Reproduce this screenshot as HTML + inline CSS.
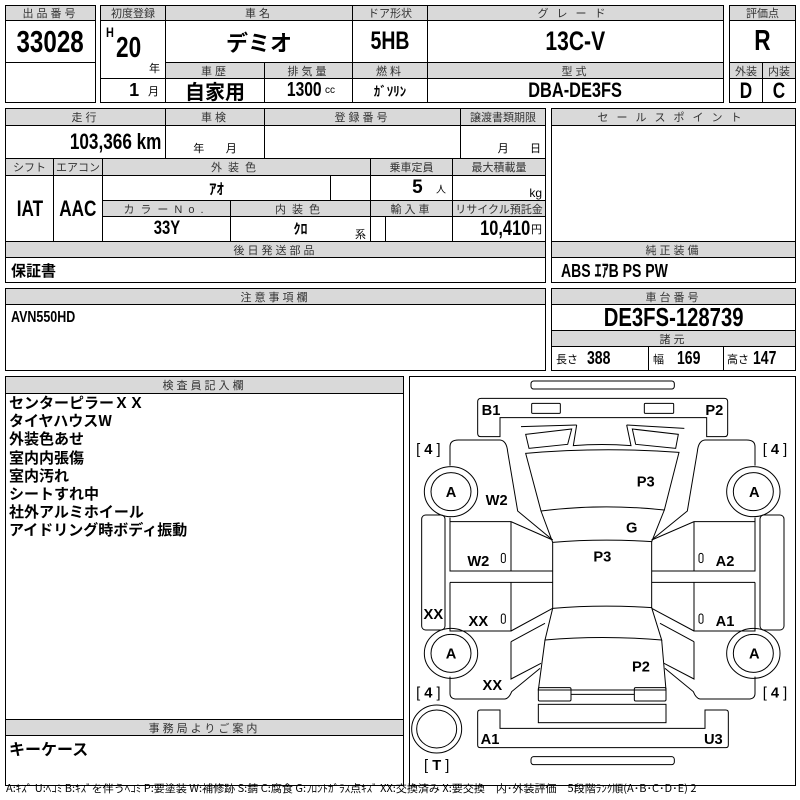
<!DOCTYPE html>
<html><head><meta charset="utf-8">
<style>
body{margin:0;width:800px;height:800px;background:#fff;position:relative;overflow:hidden;font-family:"Liberation Sans","Noto Sans CJK JP",sans-serif;}
.c{position:absolute;border:1px solid #000;box-sizing:border-box;display:flex;align-items:center;justify-content:center;white-space:nowrap;color:#000;}
.h{background:#d9d9d9;font-size:11px;color:#333;letter-spacing:3px;}
.v{font-weight:bold;}
.n{display:inline-block;transform:scaleX(.78);font-weight:bold;}
.nr{display:inline-block;transform:scaleX(.78);transform-origin:right center;font-weight:bold;}
.nl{display:inline-block;transform:scaleX(.78);transform-origin:left center;font-weight:bold;}
.j{font-family:"Noto Sans CJK JP",sans-serif;font-weight:bold;}
</style></head><body>
<div class="c h" style="left:5px;top:5px;width:91px;height:16px">出品番号</div>
<div class="c" style="left:5px;top:20px;width:91px;height:43px;font-size:31px"><span class="n">33028</span></div>
<div class="c" style="left:5px;top:62px;width:91px;height:41px"></div>
<div class="c h" style="left:100px;top:5px;width:66px;height:16px;letter-spacing:0">初度登録</div>
<div class="c h" style="left:165px;top:5px;width:188px;height:16px">車名</div>
<div class="c h" style="left:352px;top:5px;width:76px;height:16px;letter-spacing:0">ドア形状</div>
<div class="c h" style="left:427px;top:5px;width:297px;height:16px;letter-spacing:8px">グレード</div>
<div class="c" style="left:100px;top:20px;width:66px;height:59px"></div>
<div style="position:absolute;left:106px;top:24px;font-size:14px" class="nl">H</div>
<div style="position:absolute;left:116px;top:32px;font-size:29px" class="nl">20</div>
<div style="position:absolute;left:149px;top:60px;font-size:11px">年</div>
<div class="c j" style="left:165px;top:20px;width:188px;height:43px;font-size:22px">デミオ</div>
<div class="c" style="left:352px;top:20px;width:76px;height:43px;font-size:25px"><span class="n">5HB</span></div>
<div class="c" style="left:427px;top:20px;width:297px;height:43px;font-size:27px"><span class="n">13C-V</span></div>
<div class="c h" style="left:165px;top:62px;width:100px;height:17px">車歴</div>
<div class="c h" style="left:264px;top:62px;width:89px;height:17px">排気量</div>
<div class="c h" style="left:352px;top:62px;width:76px;height:17px">燃料</div>
<div class="c h" style="left:427px;top:62px;width:297px;height:17px">型式</div>
<div class="c" style="left:100px;top:78px;width:66px;height:25px;justify-content:flex-end;padding-right:6px"><span class="v" style="font-size:18px">1</span>&nbsp;&nbsp;<span style="font-size:11px">月</span></div>
<div class="c j" style="left:165px;top:78px;width:100px;height:25px;font-size:20px">自家用</div>
<div class="c" style="left:264px;top:78px;width:89px;height:25px"><span class="n" style="font-size:20px;margin-right:-6px">1300</span>&nbsp;<span style="font-size:10px">cc</span></div>
<div class="c j" style="left:352px;top:78px;width:76px;height:25px;font-size:13px">ｶﾞｿﾘﾝ</div>
<div class="c" style="left:427px;top:78px;width:297px;height:25px;font-size:21px"><span class="n">DBA-DE3FS</span></div>
<div class="c h" style="left:729px;top:5px;width:67px;height:16px;letter-spacing:0">評価点</div>
<div class="c" style="left:729px;top:20px;width:67px;height:43px;font-size:29px"><span class="n">R</span></div>
<div class="c h" style="left:729px;top:62px;width:34px;height:17px;letter-spacing:0">外装</div>
<div class="c h" style="left:762px;top:62px;width:34px;height:17px;letter-spacing:0">内装</div>
<div class="c" style="left:729px;top:78px;width:34px;height:25px;font-size:22px"><span class="n">D</span></div>
<div class="c" style="left:762px;top:78px;width:34px;height:25px;font-size:22px"><span class="n">C</span></div>
<div class="c h" style="left:5px;top:108px;width:161px;height:18px">走行</div>
<div class="c h" style="left:165px;top:108px;width:100px;height:18px">車検</div>
<div class="c h" style="left:264px;top:108px;width:197px;height:18px">登録番号</div>
<div class="c h" style="left:460px;top:108px;width:86px;height:18px;letter-spacing:0">譲渡書類期限</div>
<div class="c" style="left:5px;top:125px;width:161px;height:34px;font-size:22px;justify-content:flex-end;padding-right:4px"><span class="nr">103,366 km</span></div>
<div class="c" style="left:165px;top:125px;width:100px;height:34px;font-size:11px;align-items:flex-end;padding-bottom:2px">年&nbsp;&nbsp;&nbsp;&nbsp;&nbsp;&nbsp;&nbsp;月</div>
<div class="c" style="left:264px;top:125px;width:197px;height:34px"></div>
<div class="c" style="left:460px;top:125px;width:86px;height:34px;font-size:11px;align-items:flex-end;justify-content:flex-end;padding:0 4px 2px 0">月&nbsp;&nbsp;&nbsp;&nbsp;&nbsp;&nbsp;&nbsp;日</div>
<div class="c h" style="left:5px;top:158px;width:49px;height:18px;letter-spacing:0">シフト</div>
<div class="c h" style="left:53px;top:158px;width:50px;height:18px;letter-spacing:0">エアコン</div>
<div class="c h" style="left:102px;top:158px;width:269px;height:18px;letter-spacing:6px">外装色</div>
<div class="c h" style="left:370px;top:158px;width:83px;height:18px;letter-spacing:0">乗車定員</div>
<div class="c h" style="left:452px;top:158px;width:94px;height:18px;letter-spacing:0">最大積載量</div>
<div class="c" style="left:5px;top:175px;width:49px;height:67px;font-size:22px"><span class="n">IAT</span></div>
<div class="c" style="left:53px;top:175px;width:50px;height:67px;font-size:22px"><span class="n">AAC</span></div>
<div class="c j" style="left:102px;top:175px;width:229px;height:26px;font-size:15px">ｱｵ</div>
<div class="c" style="left:330px;top:175px;width:41px;height:26px"></div>
<div class="c" style="left:370px;top:175px;width:83px;height:26px;justify-content:flex-end;padding-right:6px"><span class="v" style="font-size:19px">5</span>&nbsp;&nbsp;&nbsp;<span style="font-size:10px">人</span></div>
<div class="c" style="left:452px;top:175px;width:94px;height:26px;font-size:12px;justify-content:flex-end;padding-right:3px;align-items:flex-end">kg</div>
<div class="c h" style="left:102px;top:200px;width:129px;height:17px;letter-spacing:6px">カラーNo.</div>
<div class="c h" style="left:230px;top:200px;width:141px;height:17px;letter-spacing:6px">内装色</div>
<div class="c h" style="left:370px;top:200px;width:83px;height:17px">輸入車</div>
<div class="c h" style="left:452px;top:200px;width:94px;height:17px;letter-spacing:0">リサイクル預託金</div>
<div class="c" style="left:102px;top:216px;width:129px;height:26px;font-size:19px"><span class="n">33Y</span></div>
<div class="c" style="left:230px;top:216px;width:141px;height:26px"><span class="j" style="font-size:14px">ｸﾛ</span></div>
<div style="position:absolute;left:355px;top:226px;font-size:11px">系</div>
<div class="c" style="left:370px;top:216px;width:16px;height:26px"></div>
<div class="c" style="left:385px;top:216px;width:68px;height:26px"></div>
<div class="c" style="left:452px;top:216px;width:94px;height:26px;justify-content:flex-end;padding-right:3px"><span class="nr" style="font-size:21px;margin-right:1px">10,410</span><span style="font-size:11px">円</span></div>
<div class="c h" style="left:5px;top:241px;width:541px;height:17px">後日発送部品</div>
<div class="c j" style="left:5px;top:257px;width:541px;height:26px;font-size:15px;justify-content:flex-start;padding-left:5px">保証書</div>
<div class="c h" style="left:551px;top:108px;width:245px;height:18px;letter-spacing:8px">セールスポイント</div>
<div class="c" style="left:551px;top:125px;width:245px;height:117px"></div>
<div class="c h" style="left:551px;top:241px;width:245px;height:17px">純正装備</div>
<div class="c" style="left:551px;top:257px;width:245px;height:26px;font-size:18px;justify-content:flex-start;padding-left:9px"><span class="nl">ABS ｴｱB PS PW</span></div>
<div class="c h" style="left:5px;top:288px;width:541px;height:17px">注意事項欄</div>
<div class="c" style="left:5px;top:304px;width:541px;height:67px;align-items:flex-start;justify-content:flex-start;padding:4px 0 0 5px"><span class="nl" style="font-size:16px">AVN550HD</span></div>
<div class="c h" style="left:551px;top:288px;width:245px;height:17px">車台番号</div>
<div class="c" style="left:551px;top:304px;width:245px;height:27px;font-size:26px"><span class="n">DE3FS-128739</span></div>
<div class="c h" style="left:551px;top:330px;width:245px;height:17px">諸元</div>
<div class="c" style="left:551px;top:346px;width:98px;height:25px;justify-content:flex-start;padding-left:4px"><span style="font-size:11px">長さ</span>&nbsp;&nbsp;<span class="nl" style="font-size:18px">388</span></div>
<div class="c" style="left:648px;top:346px;width:76px;height:25px;justify-content:flex-start;padding-left:4px"><span style="font-size:11px">幅</span>&nbsp;&nbsp;&nbsp;<span class="nl" style="font-size:18px">169</span></div>
<div class="c" style="left:723px;top:346px;width:73px;height:25px;justify-content:flex-start;padding-left:3px"><span style="font-size:11px">高さ</span>&nbsp;<span class="nl" style="font-size:18px">147</span></div>
<div class="c" style="left:5px;top:376px;width:399px;height:410px"></div>
<div class="c h" style="left:5px;top:376px;width:399px;height:18px">検査員記入欄</div>
<div class="j" style="position:absolute;left:9px;top:394px;font-size:15px;line-height:18.2px">センターピラーＸＸ<br>タイヤハウスW<br>外装色あせ<br>室内内張傷<br>室内汚れ<br>シートすれ中<br>社外アルミホイール<br>アイドリング時ボディ振動</div>
<div class="c h" style="left:5px;top:719px;width:399px;height:17px">事務局よりご案内</div>
<div class="j" style="position:absolute;left:9px;top:736px;font-size:16px">キーケース</div>
<div class="c" style="left:409px;top:376px;width:387px;height:410px"></div>
<svg style="position:absolute;left:405px;top:375px" width="395" height="410" viewBox="0 0 1185 1230">
<g fill="none" stroke="#000" stroke-width="3">
<rect x="378" y="18" width="430" height="24" rx="8"/>
<path d="M218,80 Q218,70 228,70 L958,70 Q968,70 968,80 L968,175 Q968,185 958,185 L905,185 L905,128 L285,128 L285,185 L228,185 Q218,185 218,175 Z"/>
<rect x="380" y="85" width="86" height="30" rx="3"/>
<rect x="718" y="85" width="88" height="30" rx="3"/>
<path d="M348,155 L515,150 M665,150 L838,160"/>
<path d="M362,178 L500,162 L488,208 L372,220 Z"/>
<path d="M682,162 L820,178 L812,220 L692,208 Z"/>
<path d="M515,150 L505,212 Q590,205 678,212 L665,150"/>
<path d="M362,235 Q590,215 822,232 L778,405 Q590,385 408,408 Z"/>
<path d="M408,408 L443,502 Q590,490 740,500 L778,405"/>
<path d="M443,502 L443,700 Q590,688 740,698 L740,500"/>
<path d="M443,700 L420,795 Q590,780 770,795 L740,698"/>
<path d="M420,795 L400,945 L783,945 L770,795"/>
<rect x="400" y="938" width="98" height="40" rx="4"/>
<rect x="688" y="938" width="95" height="40" rx="4"/>
<path d="M498,958 L688,958"/>
<rect x="400" y="988" width="383" height="55"/>
<path d="M218,1013 Q218,1005 226,1005 L285,1005 L285,1060 L900,1060 L900,1005 L962,1005 Q970,1005 970,1013 L970,1110 Q970,1118 962,1118 L226,1118 Q218,1118 218,1110 Z"/>
<rect x="378" y="1145" width="430" height="24" rx="8"/>
<path d="M135,272 L135,215 Q135,195 160,195 L285,195 Q305,197 308,230 L338,408 L443,495"/>
<path d="M135,428 L135,440 L318,440 L443,495 M318,440 L318,588 M135,440 L135,588 L443,588 M135,622 L443,622 M135,622 L135,768 L318,768 L318,622 M318,768 L443,700"/>
<rect x="50" y="420" width="70" height="345" rx="12"/>
<path d="M318,800 L420,745 M318,800 L318,912 L408,865 M135,905 L135,955 Q135,972 155,972 L300,972 Q312,970 320,950 L405,880"/>
<path d="M1050,272 L1050,215 Q1050,195 1025,195 L900,195 Q880,197 877,230 L847,408 L740,495"/>
<path d="M1050,428 L1050,440 L867,440 L740,495 M867,440 L867,588 M1050,440 L1050,588 L740,588 M1050,622 L740,622 M1050,622 L1050,768 L867,768 L867,622 M867,768 L740,700"/>
<rect x="1065" y="420" width="72" height="345" rx="12"/>
<path d="M867,800 L765,745 M867,800 L867,912 L777,865 M1050,905 L1050,955 Q1050,972 1030,972 L885,972 Q873,970 865,950 L780,880"/>
<ellipse cx="138" cy="350" rx="80" ry="75"/><ellipse cx="138" cy="350" rx="60" ry="57"/>
<ellipse cx="1045" cy="350" rx="80" ry="75"/><ellipse cx="1045" cy="350" rx="60" ry="57"/>
<ellipse cx="138" cy="835" rx="80" ry="75"/><ellipse cx="138" cy="835" rx="60" ry="57"/>
<ellipse cx="1045" cy="835" rx="80" ry="75"/><ellipse cx="1045" cy="835" rx="60" ry="57"/>
<ellipse cx="95" cy="1062" rx="75" ry="72"/><ellipse cx="95" cy="1062" rx="60" ry="57"/>
</g>
<g font-family="Liberation Sans, sans-serif" font-weight="bold" font-size="44" text-anchor="middle" fill="#000">
<text x="258" y="120">B1</text><text x="928" y="120">P2</text>
<text x="70" y="237" font-weight="normal">[ <tspan font-weight="bold">4</tspan> ]</text>
<text x="1110" y="237" font-weight="normal">[ <tspan font-weight="bold">4</tspan> ]</text>
<text x="70" y="967" font-weight="normal">[ <tspan font-weight="bold">4</tspan> ]</text>
<text x="1110" y="967" font-weight="normal">[ <tspan font-weight="bold">4</tspan> ]</text>
<text x="138" y="366">A</text><text x="1048" y="366">A</text>
<text x="138" y="851">A</text><text x="1048" y="851">A</text>
<text x="275" y="390">W2</text><text x="722" y="335">P3</text>
<text x="680" y="472">G</text><text x="592" y="560">P3</text>
<text x="220" y="573">W2</text>
<text x="960" y="573">A2</text>
<text x="85" y="732">XX</text><text x="220" y="753">XX</text>
<text x="960" y="753">A1</text>
<text x="708" y="890">P2</text><text x="262" y="945">XX</text>
<text x="255" y="1107">A1</text><text x="925" y="1107">U3</text>
<text x="95" y="1185" font-weight="normal">[ <tspan font-weight="bold">T</tspan> ]</text>
</g>
<g fill="none" stroke="#000" stroke-width="3">
<rect x="289" y="535" width="12" height="28" rx="6"/><rect x="882" y="535" width="12" height="28" rx="6"/>
<rect x="289" y="717" width="12" height="28" rx="6"/><rect x="882" y="717" width="12" height="28" rx="6"/>
</g>
</svg>
<div style="position:absolute;left:6px;top:781px;font-size:10.5px;font-family:'Noto Sans CJK JP',sans-serif;white-space:nowrap;transform:scaleX(1.05);transform-origin:left top">A:ｷｽﾞ U:ﾍｺﾐ B:ｷｽﾞを伴うﾍｺﾐ P:要塗装 W:補修跡 S:錆 C:腐食 G:ﾌﾛﾝﾄｶﾞﾗｽ点ｷｽﾞ XX:交換済み X:要交換　内･外装評価　5段階ﾗﾝｸ順(A･B･C･D･E) 2</div>
</body></html>
